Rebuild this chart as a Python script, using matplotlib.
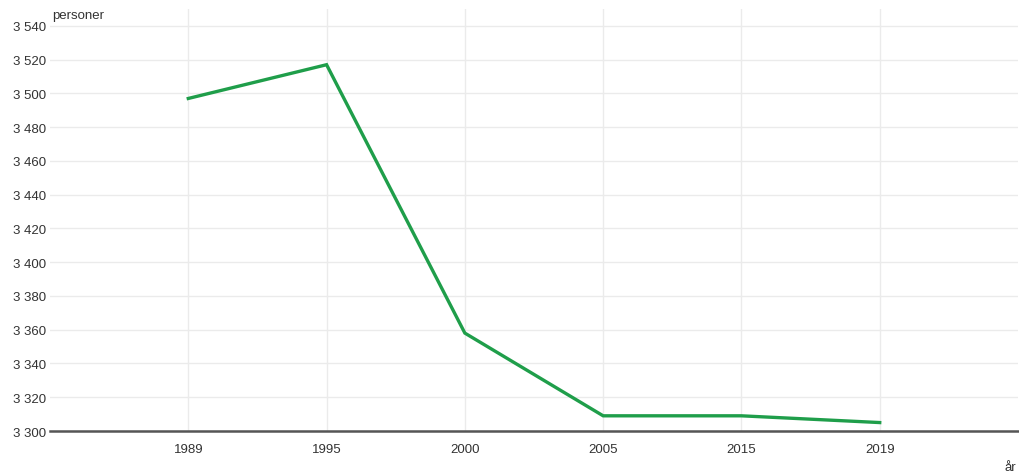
import matplotlib.pyplot as plt
import numpy as np

plt.rcParams['font.family'] = ['Liberation Sans', 'DejaVu Sans']

# Data
years = ["1989", "1995", "2000", "2005", "2015", "2019"]
persons = [3497, 3517, 3358, 3309, 3309, 3305]
y_ticks = list(range(3300, 3541, 20))

def fmt(v):
    return "{:,}".format(v).replace(",", " ")

fig = plt.figure(figsize=(10.19, 4.77), dpi=100)
ax = fig.add_axes([50/1019, 45/477, 968/1019, 422/477])

x = np.arange(1, len(years) + 1)
ax.plot(x, persons, color="#1f9e4a", lw=2.4, solid_joinstyle="miter", zorder=3)

ax.set_xlim(0, 7)
ax.set_ylim(3300, 3550)
ax.set_xticks(x)
ax.set_xticklabels(years)
ax.set_yticks(y_ticks)
ax.set_yticklabels([fmt(v) for v in y_ticks])
ax.tick_params(axis="both", length=0, labelsize=9.5, colors="#333333")
ax.tick_params(axis="x", pad=9)
ax.tick_params(axis="y", pad=3)

ax.grid(True, color="#ebebeb", lw=1)
ax.set_axisbelow(True)
for s in ["top", "right", "left"]:
    ax.spines[s].set_visible(False)
ax.spines["bottom"].set_color("#555555")
ax.spines["bottom"].set_linewidth(1.8)

fig.text(52/1019, 1 - 16/477, "personer", fontsize=9.5, color="#333333", va="center", ha="left")
fig.text(1010/1019, 1 - 468/477, "år", fontsize=9.5, color="#333333", va="center", ha="center")

plt.savefig("out.png", dpi=100)
